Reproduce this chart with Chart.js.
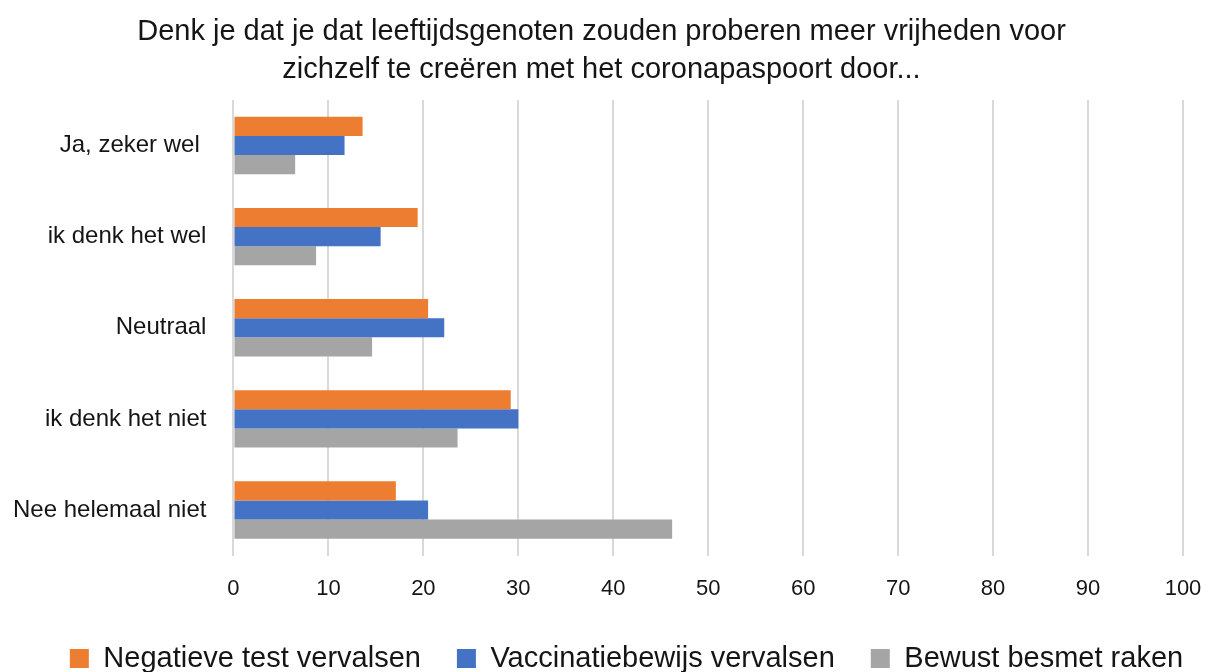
<!DOCTYPE html>
<html>
<head>
<meta charset="utf-8">
<script src="https://cdn.jsdelivr.net/npm/chart.js@4"></script>
<style>
  html, body { margin: 0; padding: 0; background: #fff; }
  #wrap { width: 1209px; height: 672px; }
</style>
</head>
<body>
<div id="wrap"><canvas id="barChart"></canvas></div>
<script>
const categories = ["Ja, zeker wel ", "ik denk het wel", "Neutraal", "ik denk het niet", "Nee helemaal niet"];
const seriesNames = ["Negatieve test vervalsen", "Vaccinatiebewijs vervalsen", "Bewust besmet raken"];
const negatieveTest = [13.6, 19.4, 20.5, 29.2, 17.1];
const vaccinatiebewijs = [11.7, 15.5, 22.2, 30.0, 20.5];
const bewustBesmet = [6.5, 8.7, 14.6, 23.6, 46.2];
const xTicks = [0, 10, 20, 30, 40, 50, 60, 70, 80, 90, 100];

const colors = ["#ED7D31", "#4472C4", "#A5A5A5"];
const fontFamily = "'Liberation Sans', Arial, sans-serif";
const textColor = "#151515";

// nudge the legend a bit to the right, like the original
const legendShift = {
    id: "legendShift",
    afterLayout(chart) {
        chart.legend.left += 25;
        chart.legend.right += 25;
    }
};

new Chart(barChart, {
    type: "bar",
    data: {
        labels: categories,
        datasets: [negatieveTest, vaccinatiebewijs, bewustBesmet].map((d, i) => ({
            label: seriesNames[i],
            data: d,
            backgroundColor: colors[i],
            barPercentage: 1,
            categoryPercentage: 0.63
        }))
    },
    plugins: [legendShift],
    options: {
        indexAxis: "y",
        responsive: true,
        maintainAspectRatio: false,
        animation: false,
        layout: { padding: { left: -6, right: 0, top: 13, bottom: -11 } },
        scales: {
            x: {
                min: 0,
                max: 100,
                afterBuildTicks: axis => { axis.ticks = xTicks.map(v => ({ value: v })); },
                afterFit: axis => { axis.height -= 14; axis.paddingRight = 26; },
                grid: { color: "#d9d9d9", lineWidth: 2, drawTicks: false },
                border: { display: false },
                ticks: { color: textColor, padding: 20, font: { family: fontFamily, size: 22 } }
            },
            y: {
                grid: { display: false },
                border: { display: false },
                ticks: { color: textColor, padding: 19, font: { family: fontFamily, size: 24 } }
            }
        },
        plugins: {
            title: {
                display: true,
                text: ["Denk je dat je dat leeftijdsgenoten zouden proberen meer vrijheden voor",
                       "zichzelf te creëren met het coronapaspoort door..."],
                color: textColor,
                font: { family: fontFamily, size: 29, weight: "normal", lineHeight: 1.31 },
                padding: { top: 0, bottom: 11 }
            },
            legend: {
                position: "bottom",
                labels: {
                    color: textColor,
                    boxWidth: 19,
                    boxHeight: 19,
                    padding: 36,
                    font: { family: fontFamily, size: 29 }
                }
            },
            tooltip: { enabled: false }
        }
    }
});
</script>
</body>
</html>
